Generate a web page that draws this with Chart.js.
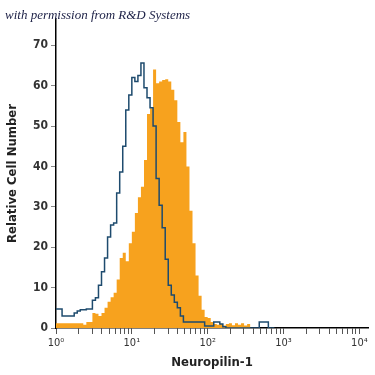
<!DOCTYPE html>
<html>
<head>
<meta charset="utf-8">
<script src="https://cdn.jsdelivr.net/npm/chart.js@4.4.0/dist/chart.umd.min.js"></script>
<style>
  html, body { margin: 0; padding: 0; background: #fff; }
  #wrap { position: relative; width: 375px; height: 375px; }
  #note {
    position: absolute; left: 5px; top: 7px;
    font: italic 13px "Liberation Serif", "DejaVu Serif", serif;
    color: #1b1f45;
  }
</style>
</head>
<body>
<div id="wrap">
  <canvas id="chart-1" width="375" height="375"></canvas>
  <div id="note">with permission from R&amp;D Systems</div>
</div>
<script>
// histogram channels, 0.04 decade wide, starting at 10^0
const binWidth = 0.04;

// isotype control (blue outline)
const controlCounts = [
  4.7, 4.7, 3.0, 3.0, 3.0, 3.0, 3.7, 4.2, 4.5, 4.5,
  4.7, 4.7, 6.9, 7.5, 10.6, 13.9, 17.3, 22.5, 25.5, 26,
  33.4, 38.6, 45, 54, 57.7, 62, 61, 62.5, 65.6, 59.5,
  57, 54.5, 50, 37, 30.4, 24.8, 17, 10.6, 8.2, 6.4,
  5, 3, 1.5, 1.5, 1.5, 1.5, 1.5, 1.5, 1.5, 0.5,
  0.5, 0.5, 1.5, 1.5, 1.0, 0.3, 0, 0, 0, 0,
  0, 0, 0, 0, 0, 0, 0, 1.5, 1.5, 1.5,
  0, 0
];

// anti-Neuropilin-1 stained (orange fill)
const stainedCounts = [
  1.2, 1.2, 1.2, 1.2, 1.2, 1.2, 1.2, 1.2, 1.2, 0.8,
  1.5, 1.5, 3.7, 3.5, 3.0, 3.7, 5.0, 6.5, 7.6, 8.7,
  12, 17.3, 18.6, 16.5, 21, 23.8, 28.5, 32.4, 35, 41.6,
  53, 54.4, 64, 60.6, 61, 61.4, 61.6, 61, 59, 56.4,
  51, 46, 48.5, 40, 29, 21, 13, 8, 4.5, 2.7,
  2.5, 1.5, 1.0, 0.8, 1.0, 0.6, 1.0, 1.2, 0.7, 1.2,
  0.8, 1.2, 0.6, 1.0, 0
];

const yTicks = [0, 10, 20, 30, 40, 50, 60, 70];
const decades = [0, 1, 2, 3, 4];
const sup = ["⁰", "¹", "²", "³", "⁴"];

const narrow = "'Liberation Sans Narrow', 'DejaVu Sans Condensed', 'Liberation Sans', sans-serif";

// channel index -> fluorescence intensity
function toPoints(arr) {
  const pts = arr.map((v, i) => ({ x: Math.pow(10, i * binWidth), y: v }));
  pts.push({ x: Math.pow(10, arr.length * binWidth), y: 0 });
  return pts;
}

const logTicks = [];
decades.forEach((d) => {
  for (let s = 1; s <= 9; s++) {
    if (d === 4 && s > 1) break;
    logTicks.push({ value: s * Math.pow(10, d) });
  }
});

const ctx1 = document.getElementById("chart-1");

new Chart(ctx1, {
  type: "line",
  data: {
    datasets: [
      {
        label: "control",
        data: toPoints(controlCounts),
        stepped: true,
        borderColor: "#1e4b6e",
        borderWidth: 1.5,
        fill: false,
        pointRadius: 0,
        order: 0,
      },
      {
        label: "Neuropilin-1",
        data: toPoints(stainedCounts),
        stepped: true,
        borderWidth: 0,
        borderColor: "rgba(0,0,0,0)",
        backgroundColor: "#f7a21e",
        fill: "origin",
        pointRadius: 0,
        order: 1,
      },
    ],
  },
  options: {
    responsive: false,
    animation: false,
    layout: { padding: { left: 0, right: 7, top: 19, bottom: 0 } },
    plugins: {
      legend: { display: false },
      tooltip: { enabled: false },
    },
    scales: {
      x: {
        type: "logarithmic",
        min: 1,
        max: 13000,
        afterBuildTicks: (scale) => {
          scale.ticks = logTicks.map((t) => ({ value: t.value }));
        },
        afterFit: (scale) => {
          scale.height = 47;
        },
        grid: { drawOnChartArea: false, tickLength: 6, color: "#555" },
        border: { color: "#000", width: 1.5 },
        ticks: {
          autoSkip: false,
          maxRotation: 0,
          padding: 3,
          color: "#333",
          font: { family: narrow, size: 11 },
          callback: (value) => {
            const e = Math.log10(value);
            const r = Math.round(e);
            return Math.abs(e - r) < 1e-6 ? "10" + sup[r] : "";
          },
        },
        title: {
          display: true,
          text: "Neuropilin-1",
          color: "#222",
          font: { family: narrow, size: 13, weight: "bold" },
          padding: { top: 0, bottom: 5 },
        },
      },
      y: {
        min: 0,
        max: 76.5,
        afterBuildTicks: (scale) => {
          scale.ticks = yTicks.map((v) => ({ value: v }));
        },
        afterFit: (scale) => {
          scale.width = 56;
        },
        grid: { drawOnChartArea: false, tickLength: 5, color: "#888" },
        border: { color: "#000", width: 1.5 },
        ticks: {
          padding: 3,
          color: "#333",
          font: { family: narrow, size: 12, weight: "bold" },
        },
        title: {
          display: true,
          text: "Relative Cell Number",
          color: "#222",
          font: { family: narrow, size: 13, weight: "bold" },
          padding: { top: 5, bottom: 0 },
        },
      },
    },
  },
});
</script>
</body>
</html>
